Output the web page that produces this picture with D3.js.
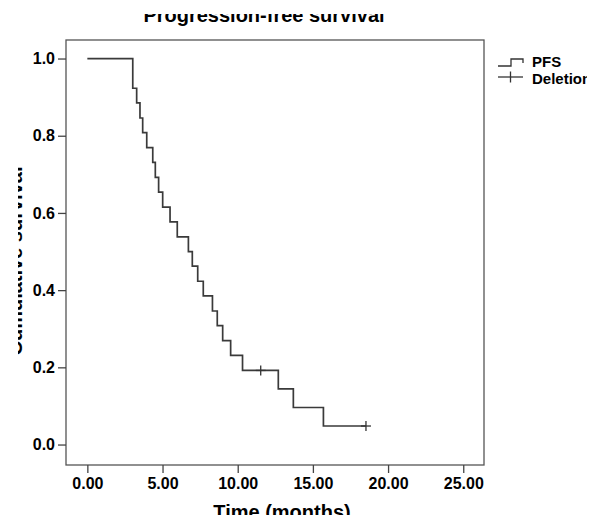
<!DOCTYPE html>
<html lang="en">

<head>
  <meta charset="UTF-8">
  <title>Progression-free survival</title>
  <style>
    body {
      margin: 0;
      background: #fff;
      font-family: "Liberation Sans", Arial, sans-serif;
    }
  </style>
  <script src="https://d3js.org/d3.v7.min.js"></script>
</head>

<body>
  <svg id="chart"></svg>

  <script>
    // event times (months) and survival after each drop
    const eventTimes = [0, 3.02, 3.28, 3.50, 3.68, 3.95, 4.35, 4.52, 4.74, 5.01, 5.50, 5.98, 6.72, 6.98,
      7.34, 7.71, 8.32, 8.64, 9.00, 9.53, 10.32, 12.70, 13.70, 15.70];
    const survival = [1.0, 0.923, 0.885, 0.846, 0.808, 0.769, 0.731, 0.692, 0.654, 0.615, 0.577, 0.538,
      0.500, 0.462, 0.423, 0.385, 0.346, 0.308, 0.269, 0.231, 0.192, 0.144, 0.096, 0.048];
    // censored observations
    const censorTimes = [11.53, 18.53];
    const censorSurv = [0.192, 0.048];

    const xTicks = [0, 5, 10, 15, 20, 25];
    const yTicks = [0, 0.2, 0.4, 0.6, 0.8, 1.0];
    const legendLabels = ["PFS", "Deletion"];

    const W = 602, H = 528;
    const plot = { left: 66, right: 484, top: 40, bottom: 465 };
    const font = "'Liberation Sans', Arial, sans-serif";

    const svg = d3.select("#chart")
      .attr("width", W)
      .attr("height", H)
      .attr("font-family", font);

    const x = d3.scaleLinear()
      .domain([-1.42, 26.38])
      .range([plot.left, plot.right]);

    const y = d3.scaleLinear()
      .domain([-0.053, 1.048])
      .range([plot.bottom, plot.top]);

    // frame
    svg.append("rect")
      .attr("x", plot.left)
      .attr("y", plot.top)
      .attr("width", plot.right - plot.left)
      .attr("height", plot.bottom - plot.top)
      .attr("fill", "none")
      .attr("stroke", "#555")
      .attr("stroke-width", 1.3);

    const styleAxis = g => {
      g.select(".domain").remove();
      g.attr("font-family", font).attr("font-size", 16);
      g.selectAll(".tick line").attr("stroke", "#444").attr("stroke-width", 1.3);
      g.selectAll(".tick text").attr("font-weight", "bold").attr("fill", "#000");
    };

    const xAxis = d3.axisBottom(x)
      .tickValues(xTicks)
      .tickSize(8)
      .tickPadding(5)
      .tickFormat(d3.format(".2f"));

    svg.append("g")
      .attr("transform", `translate(0, ${plot.bottom})`)
      .call(xAxis)
      .call(styleAxis);

    const yAxis = d3.axisLeft(y)
      .tickValues(yTicks)
      .tickSize(8)
      .tickPadding(3)
      .tickFormat(d3.format(".1f"));

    svg.append("g")
      .attr("transform", `translate(${plot.left}, 0)`)
      .call(yAxis)
      .call(styleAxis);

    // step curve, ends at the last censored point
    const steps = eventTimes.map((t, i) => [t, survival[i]]);
    steps.push([censorTimes[censorTimes.length - 1], censorSurv[censorSurv.length - 1]]);

    const line = d3.line()
      .x(d => x(d[0]))
      .y(d => y(d[1]))
      .curve(d3.curveStepAfter);

    svg.append("path")
      .datum(steps)
      .attr("d", line)
      .attr("fill", "none")
      .attr("stroke", "#3a3a3a")
      .attr("stroke-width", 1.7);

    // censor marks
    const censored = censorTimes.map((t, i) => [t, censorSurv[i]]);
    const marks = svg.selectAll(".censor")
      .data(censored)
      .enter()
      .append("g")
      .attr("class", "censor")
      .attr("transform", d => `translate(${x(d[0])}, ${y(d[1])})`);
    marks.append("line").attr("x1", -5).attr("x2", 5).attr("stroke", "#333").attr("stroke-width", 1.3);
    marks.append("line").attr("y1", -5).attr("y2", 5).attr("stroke", "#333").attr("stroke-width", 1.3);

    // titles
    svg.append("text")
      .attr("x", 264)
      .attr("y", 21.5)
      .attr("text-anchor", "middle")
      .attr("font-size", 20)
      .attr("font-weight", "bold")
      .text("Progression-free survival");

    svg.append("text")
      .attr("x", 282)
      .attr("y", 519)
      .attr("text-anchor", "middle")
      .attr("font-size", 20)
      .attr("font-weight", "bold")
      .text("Time (months)");

    svg.append("text")
      .attr("transform", "translate(22, 261) rotate(-90)")
      .attr("text-anchor", "middle")
      .attr("font-size", 20)
      .attr("font-weight", "bold")
      .text("Cumulative survival");

    // legend
    const lg = svg.append("g").attr("transform", "translate(498, 0)");
    lg.append("path")
      .attr("d", "M0,66 H13 V59 H25 V63")
      .attr("fill", "none")
      .attr("stroke", "#333")
      .attr("stroke-width", 1.3);
    lg.append("line").attr("x1", 0).attr("x2", 25).attr("y1", 77).attr("y2", 77)
      .attr("stroke", "#333").attr("stroke-width", 1.3);
    lg.append("line").attr("x1", 12.5).attr("x2", 12.5).attr("y1", 71.5).attr("y2", 82.5)
      .attr("stroke", "#333").attr("stroke-width", 1.3);
    lg.selectAll(".lbl")
      .data(legendLabels)
      .enter()
      .append("text")
      .attr("class", "lbl")
      .attr("x", 34)
      .attr("y", (d, i) => 67 + i * 16.5)
      .attr("font-size", 15)
      .attr("font-weight", "bold")
      .text(d => d);

    // the figure was cropped out of a larger image: white borders cut the edge texts
    svg.append("rect").attr("x", 0).attr("y", 0).attr("width", W).attr("height", 14).attr("fill", "#fff");
    svg.append("rect").attr("x", 0).attr("y", 515).attr("width", W).attr("height", H - 515).attr("fill", "#fff");
    svg.append("rect").attr("x", 0).attr("y", 0).attr("width", 18).attr("height", H).attr("fill", "#fff");
    svg.append("rect").attr("x", 587).attr("y", 0).attr("width", W - 587).attr("height", H).attr("fill", "#fff");
  </script>
</body>

</html>
